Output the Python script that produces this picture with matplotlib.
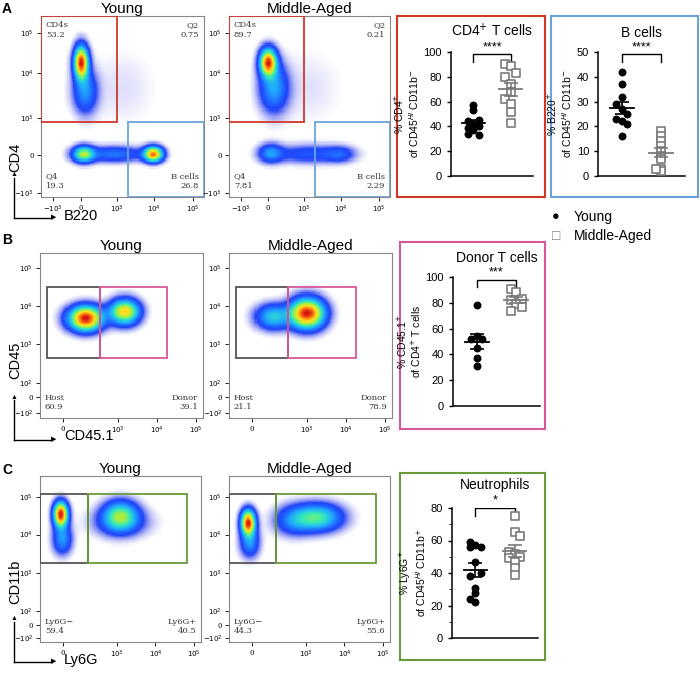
import matplotlib
matplotlib.use('Agg')
import matplotlib.pyplot as plt
import matplotlib.patches as mpatches
from matplotlib.lines import Line2D
from matplotlib.colors import LinearSegmentedColormap
import numpy as np

W, H = 700, 677
plt.rcParams['font.family'] = ['Liberation Sans', 'DejaVu Sans']

# ---- flow panels: gaussian blob (x, y, sx, sy, weight) in axes-fraction units ----
BLOBS = {
    'A_young': [(0.245, 0.74, 0.03, 0.06, 1.0), (0.27, 0.58, 0.05, 0.08, 0.3),
                (0.26, 0.235, 0.045, 0.03, 0.6), (0.45, 0.235, 0.12, 0.03, 0.25),
                (0.69, 0.235, 0.04, 0.028, 0.9), (0.5, 0.6, 0.15, 0.15, 0.03)],
    'A_mid': [(0.245, 0.74, 0.035, 0.05, 1.0), (0.28, 0.6, 0.06, 0.09, 0.35),
              (0.26, 0.24, 0.05, 0.035, 0.3), (0.5, 0.235, 0.15, 0.035, 0.2),
              (0.69, 0.235, 0.06, 0.03, 0.16), (0.5, 0.6, 0.15, 0.15, 0.03)],
    'B_young': [(0.28, 0.6, 0.07, 0.05, 1.0), (0.52, 0.64, 0.06, 0.05, 0.75)],
    'B_mid': [(0.27, 0.61, 0.07, 0.05, 0.4), (0.48, 0.63, 0.07, 0.06, 1.0)],
    'C_young': [(0.13, 0.77, 0.03, 0.05, 1.0), (0.14, 0.62, 0.04, 0.06, 0.3),
                (0.5, 0.76, 0.07, 0.06, 0.5), (0.5, 0.72, 0.12, 0.06, 0.15)],
    'C_mid': [(0.12, 0.72, 0.03, 0.05, 1.0), (0.13, 0.6, 0.04, 0.06, 0.3),
              (0.55, 0.75, 0.1, 0.055, 0.5), (0.4, 0.73, 0.08, 0.06, 0.22)],
}
GATE_TEXT = {
    'A_young': [('CD4s\n53.2', 'l', 't'), ('Q2\n0.75', 'r', 't'), ('Q4\n19.3', 'l', 'b'), ('B cells\n26.8', 'r', 'b')],
    'A_mid': [('CD4s\n89.7', 'l', 't'), ('Q2\n0.21', 'r', 't'), ('Q4\n7.81', 'l', 'b'), ('B cells\n2.29', 'r', 'b')],
    'B_young': [('Host\n60.9', 'l', 'b'), ('Donor\n39.1', 'r', 'b')],
    'B_mid': [('Host\n21.1', 'l', 'b'), ('Donor\n78.9', 'r', 'b')],
    'C_young': [('Ly6G\u2212\n59.4', 'l', 'b'), ('Ly6G+\n40.5', 'r', 'b')],
    'C_mid': [('Ly6G\u2212\n44.3', 'l', 'b'), ('Ly6G+\n55.6', 'r', 'b')],
}
XT_A = ([0.075, 0.243, 0.464, 0.693, 0.93], ['$-10^3$', '0', '$10^3$', '$10^4$', '$10^5$'])
YT_A = ([0.022, 0.233, 0.436, 0.684, 0.904], ['$-10^3$', '0', '$10^3$', '$10^4$', '$10^5$'])
XT_C = ([0.14, 0.48, 0.717, 0.954], ['0', '$10^3$', '$10^4$', '$10^5$'])
YT_B = ([0.03, 0.125, 0.212, 0.448, 0.68, 0.909], ['$-10^2$', '0', '$10^2$', '$10^3$', '$10^4$', '$10^5$'])
YT_C = ([0.024, 0.104, 0.187, 0.418, 0.647, 0.873], ['$-10^2$', '0', '$10^2$', '$10^3$', '$10^4$', '$10^5$'])

# ---- stats ----
CD4_Y = [57, 53, 45, 44, 42, 40, 39, 37, 33, 34]
CD4_M = [90, 89, 83, 80, 74, 68, 62, 58, 52, 43]
BC_Y = [42, 37, 32, 29, 27, 25, 23, 22, 21, 16]
BC_M = [18, 16, 14, 12, 10, 8, 7, 3, 2, 3]
DON_Y = [78, 54, 52, 52, 45, 37, 31]
DON_M = [91, 88, 83, 82, 79, 77, 74]
NEU_Y = [59, 57, 56, 56, 47, 40, 38, 31, 28, 24, 22]
NEU_M = [75, 65, 63, 53, 52, 50, 49, 47, 43, 39]

RED, BLUE, MAG, GRN, GRY = '#d0372b', '#6aa3dc', '#d6589a', '#6a9a3a', '#7a7a7a'
FLOW_CMAP = LinearSegmentedColormap.from_list(
    'flow', ['#3030e0', '#1f50ff', '#1fa8ff', '#30e8c0', '#a8f040', '#ffe020', '#ff8010', '#d41010'])

fig = plt.figure(figsize=(W / 100, H / 100), dpi=100)


def box(x0, y0, x1, y1):
    return [x0 / W, 1 - y1 / H, (x1 - x0) / W, (y1 - y0) / H]


def flow(key, rect, xt, yt, gates, title):
    ax = fig.add_axes(box(*rect))
    n = 160
    g = (np.arange(n) + 0.5) / n
    X, Y = np.meshgrid(g, g)
    D = np.zeros_like(X)
    for cx, cy, sx, sy, w in BLOBS[key]:
        D += w * np.exp(-((X - cx) ** 2 / (2 * sx ** 2) + (Y - cy) ** 2 / (2 * sy ** 2)))
    D = D / D.max()
    alpha = np.clip((D - 0.01) / 0.12, 0, 1)
    ax.imshow(D ** 1.1, origin='lower', extent=[0, 1, 0, 1], cmap=FLOW_CMAP, alpha=alpha,
              interpolation='nearest', aspect='auto', vmin=0, vmax=1)
    for (x0, y0, x1, y1, c) in gates:
        ax.add_patch(mpatches.Rectangle((x0, y0), x1 - x0, y1 - y0, fill=False,
                                        ec=c, lw=1.3, zorder=3))
    for txt, h, v in GATE_TEXT[key]:
        ax.text(0.03 if h == 'l' else 0.97, 0.97 if v == 't' else 0.04, txt,
                ha='left' if h == 'l' else 'right', va='top' if v == 't' else 'bottom',
                fontsize=6, color='#333333', family='DejaVu Serif', zorder=4)
    ax.set_xlim(0, 1)
    ax.set_ylim(0, 1)
    ax.set_xticks(xt[0], xt[1], fontsize=5, family='DejaVu Serif')
    ax.set_yticks(yt[0], yt[1], fontsize=5, family='DejaVu Serif')
    ax.tick_params(length=3, width=0.6, pad=2)
    for s in ax.spines.values():
        s.set_color('#888888')
        s.set_linewidth(0.8)
    ax.set_title(title, fontsize=11, pad=2)
    return ax


# A
flow('A_young', (41, 16, 204, 197), XT_A, YT_A,
     [(0, 0.414, 0.468, 1, RED), (0.532, 0, 1, 0.414, BLUE)], 'Young')
flow('A_mid', (229, 16, 390, 197), XT_A, YT_A,
     [(0, 0.414, 0.466, 1, RED), (0.536, 0, 1, 0.414, BLUE)], 'Middle-Aged')
# B
flow('B_young', (40, 253, 203, 418), XT_C, YT_B,
     [(0.045, 0.364, 0.367, 0.796, '#555555'), (0.367, 0.364, 0.78, 0.796, MAG)], 'Young')
flow('B_mid', (229, 253, 392, 418), XT_C, YT_B,
     [(0.045, 0.364, 0.363, 0.796, '#555555'), (0.363, 0.364, 0.78, 0.796, MAG)], 'Middle-Aged')
# C
flow('C_young', (40, 476, 201, 642), XT_C, YT_C,
     [(0, 0.475, 0.298, 0.89, '#555555'), (0.298, 0.475, 0.916, 0.89, GRN)], 'Young')
flow('C_mid', (229, 476, 390, 642), XT_C, YT_C,
     [(0, 0.475, 0.294, 0.89, '#555555'), (0.294, 0.475, 0.912, 0.89, GRN)], 'Middle-Aged')


def offsets(vals, step=0.14):
    # simple swarm: points with a close neighbour get pushed sideways
    thr = 0.05 * max(vals)
    out = []
    for i, v in enumerate(vals):
        crowded = any(abs(u - v) < thr for j, u in enumerate(vals) if j != i)
        out.append(((i % 3) - 1) * step if crowded else 0.0)
    return out


def stats(rect, frame, frame_c, yv, mv, ymax, ystep, title, stars, ylabel, minor=False):
    fr = fig.add_axes(box(*frame))
    fr.set_xticks([])
    fr.set_yticks([])
    fr.patch.set_alpha(0)
    for s in fr.spines.values():
        s.set_color(frame_c)
        s.set_linewidth(1.5)
    ax = fig.add_axes(box(*rect))
    for i, (vals, mk) in enumerate([(yv, 'o'), (mv, 's')]):
        xs = np.array(offsets(vals)) + i
        if mk == 'o':
            ax.scatter(xs, vals, s=22, c='black', marker='o', zorder=3)
        else:
            ax.scatter(xs, vals, s=30, facecolors='white', edgecolors=GRY, marker='s', lw=1.2, zorder=3)
        m = np.mean(vals)
        se = np.std(vals, ddof=1) / np.sqrt(len(vals))
        c = 'black' if i == 0 else GRY
        ax.plot([i - 0.3, i + 0.3], [m, m], color=c, lw=1.3, zorder=4)
        ax.errorbar(i, m, yerr=se, color=c, capsize=5, lw=1.2, capthick=1.2, zorder=4)
    top = ymax * 0.98 if not minor else ymax
    ax.plot([0, 0, 1, 1], [top - ymax * 0.06, top, top, top - ymax * 0.06], color='black', lw=1)
    ax.text(0.5, top + ymax * 0.01, stars, ha='center', va='bottom', fontsize=9)
    ax.set_xlim(-0.6, 1.6)
    ax.set_ylim(0, ymax)
    ax.set_yticks(np.arange(0, ymax + 1, ystep))
    if minor:
        ax.set_yticks(np.arange(0, ymax + 1, ystep / 2), minor=True)
    ax.set_xticks([])
    ax.tick_params(labelsize=8, width=1, length=3)
    for s in ['top', 'right']:
        ax.spines[s].set_visible(False)
    ax.spines['left'].set_linewidth(1.1)
    ax.spines['bottom'].set_linewidth(1.1)
    ax.set_ylabel(ylabel, fontsize=7.5, labelpad=2, linespacing=1.05)
    ax.set_title(title, fontsize=10, pad=11 if not minor else 14)
    return ax


stats((451, 52, 533, 176), (397, 16, 545, 197), RED, CD4_Y, CD4_M, 100, 20,
      'CD4$^{+}$ T cells', '****', '% CD4$^{+}$\nof CD45$^{HI}$ CD11b$^{-}$')
stats((598, 52, 685, 176), (551, 16, 698, 197), BLUE, BC_Y, BC_M, 50, 10,
      'B cells', '****', '% B220$^{+}$\nof CD45$^{HI}$ CD11b$^{-}$')
stats((453, 277, 540, 406), (400, 242, 545, 429), MAG, DON_Y, DON_M, 100, 20,
      'Donor T cells', '***', '% CD45.1$^{+}$\nof CD4$^{+}$ T cells')
stats((452, 508, 538, 638), (400, 473, 545, 660), GRN, NEU_Y, NEU_M, 80, 20,
      'Neutrophils', '*', '% Ly6G$^{+}$\nof CD45$^{HI}$ CD11b$^{+}$', minor=True)

# legend
fig.text(556 / W, 1 - 217 / H, '\u25cf', fontsize=9, va='center', ha='center')
fig.text(574 / W, 1 - 217 / H, 'Young', fontsize=10, va='center')
fig.text(556 / W, 1 - 236 / H, '\u25a1', fontsize=10, va='center', ha='center', color=GRY)
fig.text(574 / W, 1 - 236 / H, 'Middle-Aged', fontsize=10, va='center')

# panel letters
for lab, y in [('A', 9), ('B', 240), ('C', 470)]:
    fig.text(2 / W, 1 - y / H, lab, fontsize=10, fontweight='bold', va='center')

# axis arrows: (corner y, arrow top y, y-label centre y, x-label y, labels)
for y0, ytop, ylc, xly, yl, xl in [(218, 178, 157, 216, 'CD4', 'B220'),
                                   (440, 400, 360, 436, 'CD45', 'CD45.1'),
                                   (662, 622, 582, 660, 'CD11b', 'Ly6G')]:
    fig.add_artist(Line2D([14 / W, 14 / W], [1 - y0 / H, 1 - ytop / H], color='black', lw=1))
    fig.add_artist(Line2D([14 / W, 52 / W], [1 - y0 / H, 1 - y0 / H], color='black', lw=1))
    fig.text(14 / W, 1 - (ytop - 3) / H, '\u25b2', fontsize=5, ha='center', va='center')
    fig.text(54 / W, 1 - y0 / H, '\u25b6', fontsize=5, ha='center', va='center')
    fig.text(15 / W, 1 - ylc / H, yl, fontsize=10.5, rotation=90, ha='center', va='center')
    fig.text(64 / W, 1 - xly / H, xl, fontsize=10.5, ha='left', va='center')

fig.savefig('out.png', dpi=100, facecolor='white')
